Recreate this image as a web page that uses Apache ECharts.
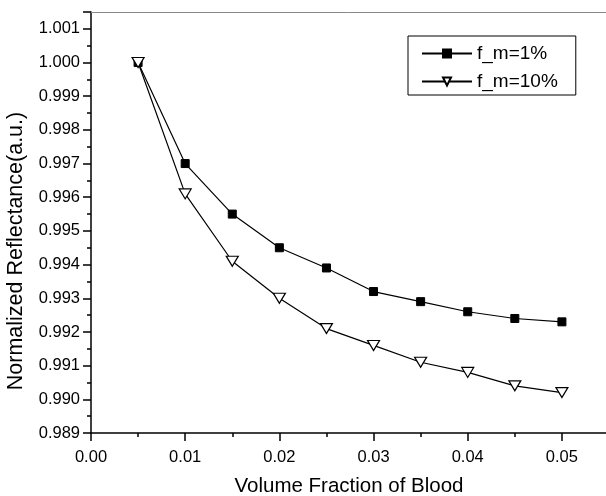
<!DOCTYPE html>
<html>
<head>
<meta charset="utf-8">
<script src="https://cdn.jsdelivr.net/npm/echarts@6/dist/echarts.min.js"></script>
<style>html,body{margin:0;padding:0;background:#fff;}#c{width:606px;height:496px;}</style>
</head>
<body>
<div id="c"></div>
<script>
var xValues = [0.005, 0.01, 0.015, 0.02, 0.025, 0.03, 0.035, 0.04, 0.045, 0.05];
var fm1 = [1.0000, 0.9970, 0.9955, 0.9945, 0.9939, 0.9932, 0.9929, 0.9926, 0.9924, 0.9923];
var fm10 = [1.0000, 0.9961, 0.9941, 0.9930, 0.9921, 0.9916, 0.9911, 0.9908, 0.9904, 0.9902];
var seriesNames = ['f_m=1%', 'f_m=10%'];
var xTitle = 'Volume Fraction of Blood';
var yTitle = 'Normalized Reflectance(a.u.)';

function pairs(xs, ys) { return xs.map(function (x, i) { return [x, ys[i]]; }); }
var FONT = '"Liberation Sans", Arial, sans-serif';
var chart = echarts.init(document.getElementById('c'), null, { renderer: 'canvas' });
chart.setOption({
  animation: false,
  backgroundColor: '#fff',
  grid: { left: 91, top: 12, width: 518, height: 421, containLabel: false, outerBoundsMode: 'none' },
  xAxis: [{
    type: 'value', min: 0, max: 0.055, interval: 0.01,
    axisLine: { show: true, onZero: false, lineStyle: { color: '#000', width: 1.5 } },
    axisTick: { show: true, inside: false, length: 8, lineStyle: { color: '#000', width: 1.5 } },
    minorTick: { show: true, splitNumber: 2, length: 4, lineStyle: { color: '#000', width: 1.5 } },
    splitLine: { show: false },
    axisLabel: { show: true, margin: 16, color: '#000', fontSize: 16.5, fontFamily: FONT,
      formatter: function (v) { return Math.abs(v * 100 - Math.round(v * 100)) < 1e-6 ? v.toFixed(2) : ''; } }
  }, {
    type: 'value', position: 'top', min: 0, max: 0.055,
    axisLine: { show: true, onZero: false, lineStyle: { color: '#888', width: 1 } },
    axisTick: { show: false }, axisLabel: { show: false }, splitLine: { show: false }
  }],
  yAxis: {
    type: 'value', min: 0.989, max: 1.0015, interval: 0.001,
    axisLine: { show: true, onZero: false, lineStyle: { color: '#000', width: 1.5 } },
    axisTick: { show: true, inside: false, length: 8, lineStyle: { color: '#000', width: 1.5 } },
    minorTick: { show: true, splitNumber: 2, length: 4, lineStyle: { color: '#000', width: 1.5 } },
    splitLine: { show: false },
    axisLabel: { show: true, margin: 11, color: '#000', fontSize: 16.5, fontFamily: FONT,
      formatter: function (v) { return Math.abs(v * 1000 - Math.round(v * 1000)) < 1e-6 ? v.toFixed(3) : ''; } }
  },
  legend: {
    orient: 'vertical', left: 408, top: 36,
    padding: [8, 18, 4, 13], itemGap: 9, itemWidth: 50, itemHeight: 10,
    borderColor: '#000', borderWidth: 1, borderRadius: 0,
    textStyle: { color: '#000', fontSize: 19, fontFamily: FONT },
    data: seriesNames
  },
  graphic: [
    { type: 'text', x: 349, y: 486, silent: true,
      style: { text: xTitle, x: 0, y: 0, fontSize: 20.5, fontFamily: FONT, fill: '#000', align: 'center', verticalAlign: 'middle' } },
    { type: 'text', x: 16, y: 251, rotation: Math.PI / 2, silent: true,
      style: { text: yTitle, x: 0, y: 0, fontSize: 21.5, fontFamily: FONT, fill: '#000', align: 'center', verticalAlign: 'middle' } }
  ],
  series: [{
    name: seriesNames[0], type: 'line', data: pairs(xValues, fm1),
    symbol: 'rect', symbolSize: 8, showAllSymbol: true,
    lineStyle: { color: '#000', width: 1.2 },
    itemStyle: { color: '#000', borderColor: '#000', borderWidth: 1 }
  }, {
    name: seriesNames[1], type: 'line', data: pairs(xValues, fm10),
    symbol: 'triangle', symbolRotate: 180, symbolSize: [12, 10], showAllSymbol: true,
    lineStyle: { color: '#000', width: 1.2 },
    itemStyle: { color: '#fff', borderColor: '#000', borderWidth: 1.2 }
  }]
});
</script>
</body>
</html>
